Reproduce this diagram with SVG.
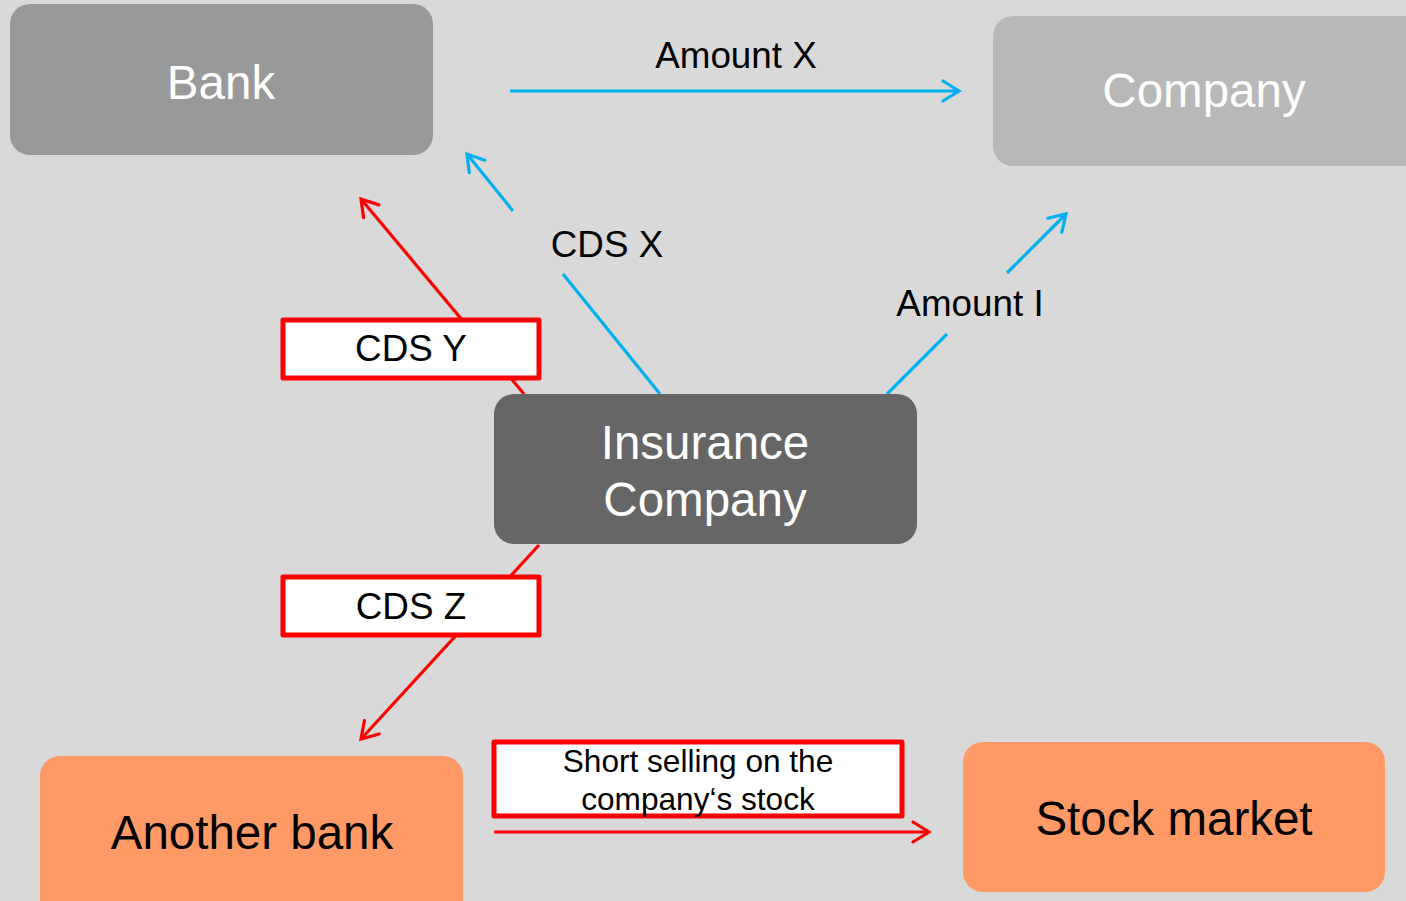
<svg xmlns="http://www.w3.org/2000/svg" width="1406" height="901" viewBox="0 0 1406 901">
<style>
.node{stroke:none}
.nt{font-family:"Liberation Sans",Arial,sans-serif;font-size:47.5px;text-anchor:middle}
.lt{font-family:"Liberation Sans",Arial,sans-serif;font-size:36.8px;text-anchor:middle;fill:#000}
.blue{stroke:#00b0f0;stroke-width:3.2;fill:none}
.red{stroke:#ff0000;stroke-width:3.2;fill:none}
.lbox{fill:#fff;stroke:#ff0000;stroke-width:5;stroke-linejoin:round}
</style>
<defs>
<marker id="ab" markerUnits="userSpaceOnUse" markerWidth="22" markerHeight="24" viewBox="0 0 22 24" refX="19" refY="12" orient="auto">
<path d="M3,2 L19,12 L3,22" fill="none" stroke="#00b0f0" stroke-width="3.2" stroke-linecap="round" stroke-linejoin="miter"/>
</marker>
<marker id="ar" markerUnits="userSpaceOnUse" markerWidth="22" markerHeight="24" viewBox="0 0 22 24" refX="19" refY="12" orient="auto">
<path d="M3,2 L19,12 L3,22" fill="none" stroke="#ff0000" stroke-width="3.2" stroke-linecap="round" stroke-linejoin="miter"/>
</marker>
</defs>
<rect width="1406" height="901" fill="#d9d9d9"/>
<g id="connectors">
<line class="blue" x1="510" y1="91" x2="959" y2="91" marker-end="url(#ab)"/>
<line class="blue" x1="660" y1="394" x2="563" y2="274"/>
<line class="blue" x1="513" y1="211" x2="467" y2="154" marker-end="url(#ab)"/>
<line class="blue" x1="887" y1="394" x2="947" y2="334"/>
<line class="blue" x1="1007" y1="273" x2="1066" y2="214" marker-end="url(#ab)"/>
<line class="red" x1="524" y1="394" x2="361" y2="199" marker-end="url(#ar)"/>
<line class="red" x1="539" y1="545" x2="361" y2="739" marker-end="url(#ar)"/>
<line class="red" x1="494" y1="832" x2="929" y2="832" marker-end="url(#ar)"/>
<text class="lt" x="736" y="68">Amount X</text>
<text class="lt" x="607" y="257">CDS X</text>
<text class="lt" x="970" y="316">Amount I</text>
<g id="label-cds-y">
<rect class="lbox" x="283" y="320" width="256" height="58"/>
<text class="lt" x="411" y="361">CDS Y</text>
</g>
<g id="label-cds-z">
<rect class="lbox" x="283" y="577" width="256" height="58"/>
<text class="lt" x="411" y="619">CDS Z</text>
</g>
<g id="label-short">
<rect class="lbox" x="494" y="742" width="408" height="74"/>
<text class="lt" x="698" y="772" style="font-size:31.6px">Short selling on the</text>
<text class="lt" x="698" y="810" style="font-size:31.6px">company‘s stock</text>
</g>
</g>
<g id="bank">
<rect class="node" x="10" y="4" width="423" height="151" rx="20" fill="#999999"/>
<text class="nt" x="221" y="99" fill="#fff">Bank</text>
</g>
<g id="company">
<rect class="node" x="993" y="16" width="440" height="150" rx="20" fill="#b8b8b8"/>
<text class="nt" x="1204" y="107" fill="#fff">Company</text>
</g>
<g id="insurance-company">
<rect class="node" x="494" y="394" width="423" height="150" rx="20" fill="#666666"/>
<text class="nt" x="705" y="459" fill="#fff">Insurance</text>
<text class="nt" x="705" y="516" fill="#fff">Company</text>
</g>
<g id="another-bank">
<rect class="node" x="40" y="756" width="423" height="170" rx="20" fill="#ff9966"/>
<text class="nt" x="252" y="849" fill="#000">Another bank</text>
</g>
<g id="stock-market">
<rect class="node" x="963" y="742" width="422" height="150" rx="20" fill="#ff9966"/>
<text class="nt" x="1174" y="835" fill="#000">Stock market</text>
</g>
</svg>
